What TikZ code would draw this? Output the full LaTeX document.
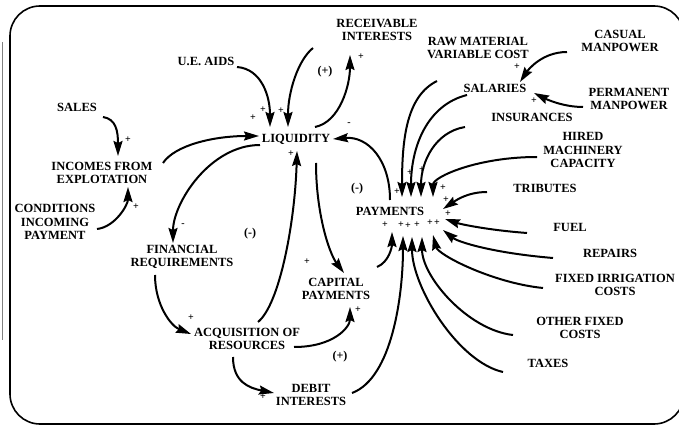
\documentclass[tikz,border=0pt]{standalone}
\usepackage{fontspec}
\setmainfont{Liberation Serif}
\usetikzlibrary{arrows.meta}

\begin{document}
\begin{tikzpicture}[x=1pt,y=-1pt,
    var/.style={font=\fontsize{12.5}{13.5}\selectfont\bfseries, align=center, inner sep=1pt},
    pol/.style={font=\fontsize{10}{10}\selectfont\bfseries, inner sep=0pt},
    looplabel/.style={font=\fontsize{12}{12}\selectfont\bfseries, inner sep=0pt},
    link/.style={line width=2pt, -{Stealth[length=15pt,width=9pt,inset=2pt]}}]
    \useasboundingbox (0,0) rectangle (679,427);

    % frame
    \draw[line width=1.6pt, rounded corners=30pt] (10,6) rectangle (684,424);
    \draw[gray, line width=0.6pt] (2,42) -- (2,340);

    % variables
    \node[var] (sales) at (77,107) {SALES};
    \node[var] (inc) at (102,173) {INCOMES FROM\\EXPLOTATION};
    \node[var] (cond) at (55,222) {CONDITIONS\\INCOMING\\PAYMENT};
    \node[var] (aids) at (206,61) {U.E. AIDS};
    \node[var] (recv) at (377,30) {RECEIVABLE\\INTERESTS};
    \node[var] (liq) at (296,139) {LIQUIDITY};
    \node[var] (fin) at (182,257) {FINANCIAL\\REQUIREMENTS};
    \node[var] (acq) at (247,339) {ACQUISITION OF\\RESOURCES};
    \node[var] (debit) at (311,395) {DEBIT\\INTERESTS};
    \node[var] (cap) at (336,289) {CAPITAL\\PAYMENTS};
    \node[var] (pay) at (390,211) {PAYMENTS};
    \node[var] (raw) at (478,48) {RAW MATERIAL\\VARIABLE COST};
    \node[var] (sal) at (495,88) {SALARIES};
    \node[var] (casual) at (620,41) {CASUAL\\MANPOWER};
    \node[var] (perm) at (629,99) {PERMANENT\\MANPOWER};
    \node[var] (ins) at (532,117) {INSURANCES};
    \node[var] (hired) at (583,150) {HIRED\\MACHINERY\\CAPACITY};
    \node[var] (trib) at (545,188) {TRIBUTES};
    \node[var] (fuel) at (570,227) {FUEL};
    \node[var] (rep) at (610,253) {REPAIRS};
    \node[var] (irr) at (615,285) {FIXED IRRIGATION\\COSTS};
    \node[var] (other) at (580,328) {OTHER FIXED\\COSTS};
    \node[var] (taxes) at (548,363) {TAXES};

    % loops
    \node[looplabel] (loopa) at (325,72) {(+)};
    \node[looplabel] (loopb) at (357,189) {(-)};
    \node[looplabel] (loopc) at (250,234) {(-)};
    \node[looplabel] (loopd) at (340,357) {(+)};

    % links into liquidity
    \draw[link] ([shift={(26,10)}]sales.center) .. controls +(13,2) and +(0,-25) .. ([shift={(16,-17)}]inc.center);
    \draw[link] ([shift={(42,7)}]cond.center) .. controls +(18,-2) and +(0,18) .. ([shift={(26,14)}]inc.center);
    \draw[link] ([shift={(61,-10)}]inc.center) .. controls +(12,-18) and +(-45,0) .. ([shift={(-37,-3)}]liq.center);
    \draw[link] ([shift={(31,6)}]aids.center) .. controls +(25,2) and +(0,-30) .. ([shift={(-26,-12)}]liq.center);
    \draw[link] ([shift={(-64,18)}]recv.center) .. controls +(-15,12) and +(0,-35) .. ([shift={(-8,-12)}]liq.center);
    \draw[link] ([shift={(19,-12)}]liq.center) .. controls +(25,-5) and +(0,30) .. ([shift={(-27,25)}]recv.center);
    \draw[link] ([shift={(0,-11)}]pay.center) .. controls +(0,-40) and +(35,-3) .. ([shift={(37,0)}]liq.center);
    \draw[link] ([shift={(-36,6)}]liq.center) .. controls +(-50,0) and +(0,-40) .. ([shift={(-9,-14)}]fin.center);
    \draw[link] ([shift={(11,-17)}]acq.center) .. controls +(22,-18) and +(-2,70) .. ([shift={(1,12)}]liq.center);
    \draw[link] ([shift={(20,24)}]liq.center) .. controls +(0,50) and +(-15,-20) .. ([shift={(8,-16)}]cap.center);

    % resources
    \draw[link] ([shift={(-27,18)}]fin.center) .. controls +(0,30) and +(-20,-8) .. ([shift={(-56,-5)}]acq.center);
    \draw[link] ([shift={(47,8)}]acq.center) .. controls +(40,0) and +(0,20) .. ([shift={(14,18)}]cap.center);
    \draw[link] ([shift={(-14,18)}]acq.center) .. controls +(0,25) and +(-25,-5) .. ([shift={(-37,-2)}]debit.center);

    % payments
    \draw[link] ([shift={(41,-2)}]debit.center) .. controls +(40,-15) and +(0,60) .. ([shift={(13,25)}]pay.center);
    \draw[link] ([shift={(41,-22)}]cap.center) .. controls +(12,-5) and +(0,15) .. ([shift={(2,21)}]pay.center);
    \draw[link] ([shift={(-45,9)}]taxes.center) .. controls +(-45,-10) and +(0,50) .. ([shift={(22,26)}]pay.center);
    \draw[link] ([shift={(-67,7)}]other.center) .. controls +(-45,-5) and +(0,40) .. ([shift={(32,26)}]pay.center);
    \draw[link] ([shift={(-72,3)}]irr.center) .. controls +(-50,-5) and +(5,20) .. ([shift={(43,24)}]pay.center);
    \draw[link] ([shift={(-57,5)}]rep.center) .. controls +(-60,-5) and +(15,12) .. ([shift={(53,19)}]pay.center);
    \draw[link] ([shift={(-43,6)}]fuel.center) .. controls +(-40,-3) and +(15,5) .. ([shift={(55,8)}]pay.center);
    \draw[link] ([shift={(-58,4)}]trib.center) .. controls +(-20,0) and +(12,-8) .. ([shift={(53,-2)}]pay.center);
    \draw[link] ([shift={(-46,7)}]hired.center) .. controls +(-60,0) and +(0,-20) .. ([shift={(43,-14)}]pay.center);
    \draw[link] ([shift={(-67,10)}]ins.center) .. controls +(-30,5) and +(0,-35) .. ([shift={(31,-14)}]pay.center);
    \draw[link] ([shift={(-28,7)}]sal.center) .. controls +(-40,10) and +(0,-50) .. ([shift={(21,-14)}]pay.center);
    \draw[link] ([shift={(-41,33)}]raw.center) .. controls +(-30,15) and +(0,-60) .. ([shift={(12,-14)}]pay.center);

    % salaries
    \draw[link] ([shift={(-53,11)}]casual.center) .. controls +(-25,0) and +(8,-12) .. ([shift={(25,-6)}]sal.center);
    \draw[link] ([shift={(-46,8)}]perm.center) .. controls +(-20,0) and +(12,6) .. ([shift={(39,5)}]sal.center);

    % signs
    \node[pol] (sa) at (128,140) {+};
    \node[pol] (sb) at (136,207) {+};
    \node[pol] (sc) at (253,118) {+};
    \node[pol] (sd) at (263,110) {+};
    \node[pol] (se) at (281,111) {+};
    \node[pol] (sf) at (361,57) {+};
    \node[pol] (sg) at (349,124) {-};
    \node[pol] (sh) at (183,225) {-};
    \node[pol] (si) at (291,154) {+};
    \node[pol] (sj) at (307,262) {+};
    \node[pol] (sk) at (191,318) {+};
    \node[pol] (sl) at (358,310) {+};
    \node[pol] (sm) at (263,397) {+};
    \node[pol] (sn) at (517,67) {+};
    \node[pol] (so) at (534,101) {+};
    \node[pol] (sp) at (397,192) {+};
    \node[pol] (sq) at (410,173) {+};
    \node[pol] (sr) at (422,170) {+};
    \node[pol] (ss) at (443,188) {+};
    \node[pol] (st) at (446,200) {+};
    \node[pol] (su) at (448,214) {+};
    \node[pol] (sv) at (385,225) {+};
    \node[pol] (sw) at (401,225) {+};
    \node[pol] (sx) at (408,226) {+};
    \node[pol] (sy) at (417,225) {+};
    \node[pol] (sz) at (430,223) {+};
    \node[pol] (sza) at (437,223) {+};
\end{tikzpicture}
\end{document}
